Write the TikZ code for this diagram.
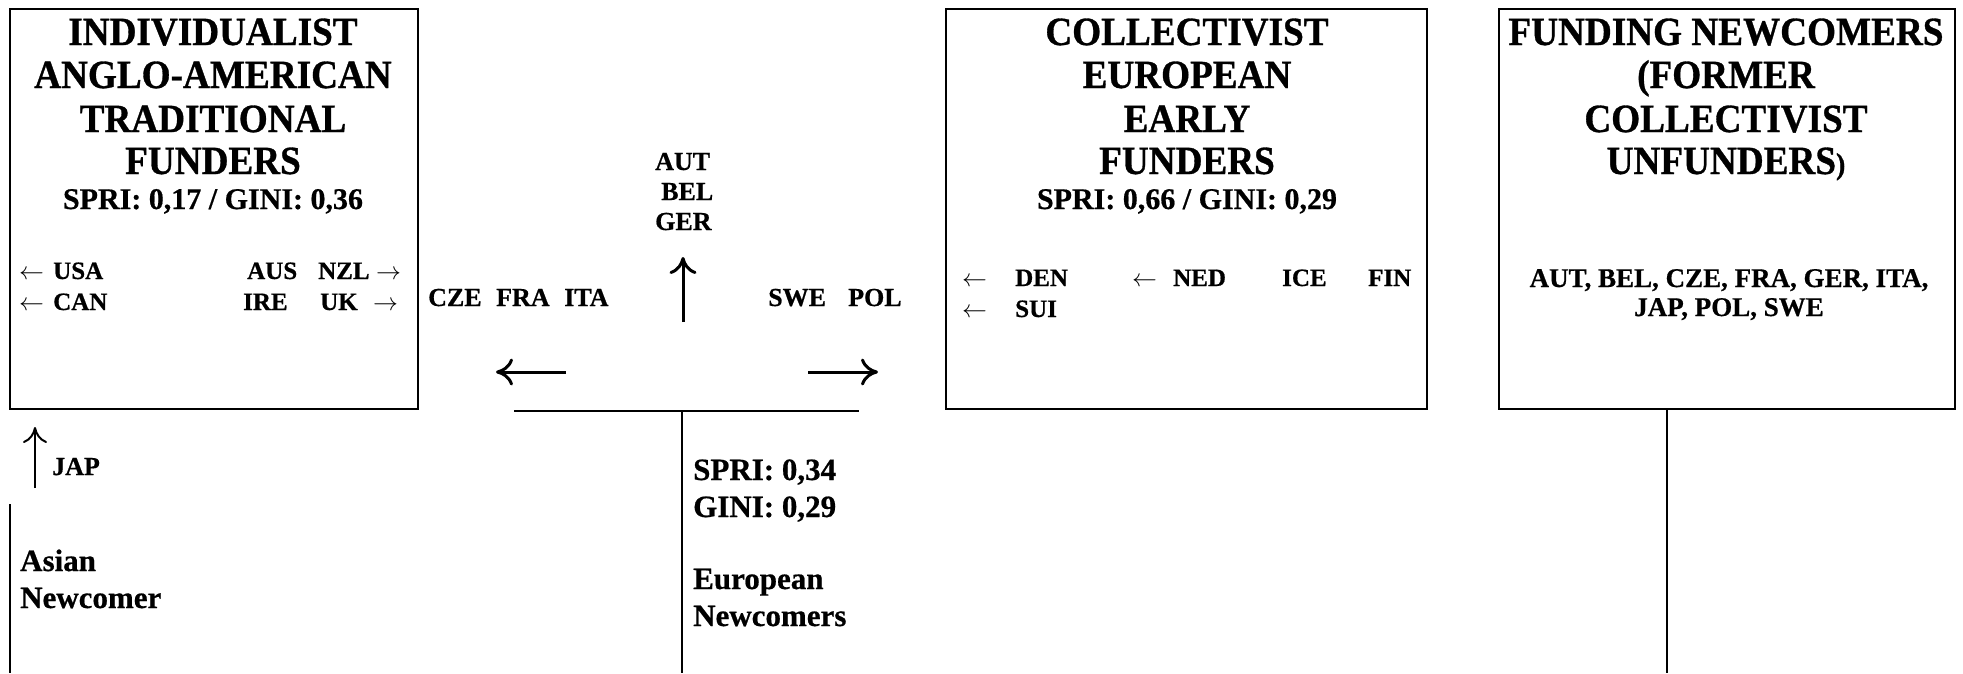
\documentclass[tikz,border=0pt]{standalone}
\usepackage{fontspec}
\setmainfont{Liberation Serif}[BoldFeatures={FakeBold=0.6}]
\newfontfamily\ttlfont{Liberation Serif}[FakeStretch=0.93,BoldFeatures={FakeBold=0.8}]
\usetikzlibrary{arrows.meta}
\begin{document}
\begin{tikzpicture}[x=1pt,y=-1pt,
  box/.style={draw, line width=2pt, inner sep=0pt},
  ttl/.style={font=\ttlfont\bfseries\fontsize{40}{43}\selectfont, anchor=base, inner sep=0pt},
  sub/.style={font=\bfseries\fontsize{30}{34}\selectfont, anchor=base, inner sep=0pt},
  lbl/.style={font=\bfseries\fontsize{25}{30}\selectfont, anchor=base west, inner sep=0pt},
  mid/.style={font=\bfseries\fontsize{26}{30}\selectfont, anchor=base west, inner sep=0pt},
  lst/.style={font=\bfseries\fontsize{27}{30}\selectfont, anchor=base, inner sep=0pt},
  big/.style={font=\bfseries\fontsize{31}{37}\selectfont, anchor=base west, inner sep=0pt},
  ln/.style={line width=2pt},
  tln/.style={line width=2.6pt},
  arr/.style={line width=3pt, -{Computer Modern Rightarrow[length=17pt,width=27pt]}},
  sarr/.style={line width=2pt, -{Computer Modern Rightarrow[length=16pt,width=24pt]}}
]
\useasboundingbox (0,0) rectangle (1963,673);

% boxes
\node[box, minimum width=408pt, minimum height=400pt] (b1) at (214,209) {};
\node[box, minimum width=481pt, minimum height=400pt] (b2) at (1186.5,209) {};
\node[box, minimum width=456pt, minimum height=400pt] (b3) at (1727,209) {};

% box 1 text
\node[ttl] (t11) at (213,45) {INDIVIDUALIST};
\node[ttl] (t12) at (213,88) {ANGLO-AMERICAN};
\node[ttl] (t13) at (213,132) {TRADITIONAL};
\node[ttl] (t14) at (213,174) {FUNDERS};
\node[sub] (s1) at (213,209) {SPRI: 0,17 / GINI: 0,36};
\node[lbl] (a1) at (19,279) {$\leftarrow$};
\node[lbl] (usa) at (53,279) {USA};
\node[lbl] (a2) at (19,310) {$\leftarrow$};
\node[lbl] (can) at (53,310) {CAN};
\node[lbl] (aus) at (247,279) {AUS};
\node[lbl] (nzl) at (318,279) {NZL};
\node[lbl] (a3) at (376,279) {$\rightarrow$};
\node[lbl] (ire) at (243,310) {IRE};
\node[lbl] (uk) at (320,310) {UK};
\node[lbl] (a4) at (373,310) {$\rightarrow$};

% box 2 text
\node[ttl] (t21) at (1187,45) {COLLECTIVIST};
\node[ttl] (t22) at (1187,88) {EUROPEAN};
\node[ttl] (t23) at (1187,132) {EARLY};
\node[ttl] (t24) at (1187,174) {FUNDERS};
\node[sub] (s2) at (1187,209) {SPRI: 0,66 / GINI: 0,29};
\node[lbl] (a5) at (962,286) {$\leftarrow$};
\node[lbl] (den) at (1015,286) {DEN};
\node[lbl] (a6) at (1132,286) {$\leftarrow$};
\node[lbl] (ned) at (1173,286) {NED};
\node[lbl] (ice) at (1282,286) {ICE};
\node[lbl] (fin) at (1368,286) {FIN};
\node[lbl] (a7) at (962,317) {$\leftarrow$};
\node[lbl] (sui) at (1015,317) {SUI};

% box 3 text
\node[ttl] (t31) at (1726,45) {FUNDING NEWCOMERS};
\node[ttl] (t32) at (1726,88) {(FORMER};
\node[ttl] (t33) at (1726,132) {COLLECTIVIST};
\node[ttl] (t34) at (1726,174) {UNFUNDERS{\fontsize{30}{30}\selectfont)}};
\node[lst] (l31) at (1729,287) {AUT, BEL, CZE, FRA, GER, ITA,};
\node[lst] (l32) at (1729,316) {JAP, POL, SWE};

% middle group
\node[mid] (aut) at (655,170) {AUT};
\node[mid] (bel) at (661,200) {BEL};
\node[mid] (ger) at (655,230) {GER};
\node[mid] (cze) at (428,306) {CZE};
\node[mid] (fra) at (496,306) {FRA};
\node[mid] (ita) at (564,306) {ITA};
\node[mid] (swe) at (768,306) {SWE};
\node[mid] (pol) at (848,306) {POL};

\coordinate (upA) at (683,322);
\coordinate (upB) at (683,257);
\coordinate (lA) at (566,372);
\coordinate (lB) at (496,372);
\coordinate (rA) at (808,372);
\coordinate (rB) at (878,372);
\draw[arr] (upA) -- (upB);
\draw[arr] (lA) -- (lB);
\draw[arr] (rA) -- (rB);

% T connector
\coordinate (tl) at (514,411);
\coordinate (tr) at (859,411);
\coordinate (tb) at (682,673);
\draw[tln] (tl) -- (tr);
\draw[ln] (tb |- tl) -- (tb);

% box 3 stem
\coordinate (c3) at (1667,673);
\draw[ln] (c3 |- b3.south) -- (c3);

% left stem
\coordinate (lv1) at (10,504);
\coordinate (lv2) at (10,673);
\draw[ln] (lv1) -- (lv2);

% JAP arrow
\coordinate (jA) at (35,488);
\coordinate (jB) at (35,427);
\draw[sarr] (jA) -- (jB);
\node[mid] (jap) at (52,475) {JAP};

% bottom texts
\node[big] (asian) at (20,571) {Asian};
\node[big] (newc) at (20,608) {Newcomer};
\node[big] (spri) at (693,480) {SPRI: 0,34};
\node[big] (gini) at (693,517) {GINI: 0,29};
\node[big] (euro) at (693,589) {European};
\node[big] (newcs) at (693,626) {Newcomers};
\end{tikzpicture}
\end{document}
